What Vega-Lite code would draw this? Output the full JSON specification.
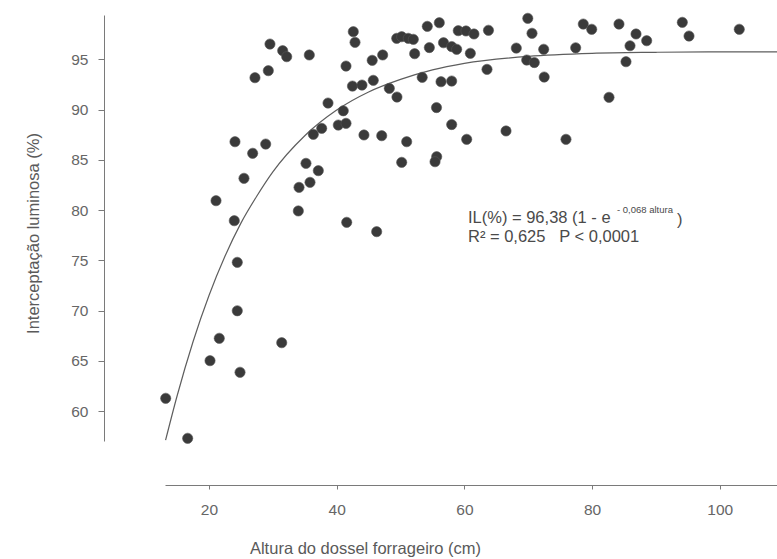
{
  "$schema": "https://vega.github.io/schema/vega-lite/v6.json",
  "autosize": {"type": "none"},
  "width": 612,
  "height": 426,
  "padding": {"left": 165, "top": 15, "right": 0, "bottom": 118},
  "background": "white",
  "config": {
    "view": {"stroke": null},
    "font": "Liberation Sans",
    "axis": {"grid": false, "domainColor": "#7a7a7a", "tickColor": "#7a7a7a", "labelColor": "#666666", "titleColor": "#5a5a5a", "labelFont": "Liberation Sans", "titleFont": "Liberation Sans", "titleFontWeight": "normal"}
  },
  "datasets": {
    "pts": [
      {"altura": 29.55, "il": 96.52}, {"altura": 31.54, "il": 95.86}, {"altura": 32.17, "il": 95.26},
      {"altura": 35.71, "il": 95.43}, {"altura": 27.20, "il": 93.17}, {"altura": 29.29, "il": 93.87},
      {"altura": 42.60, "il": 97.75}, {"altura": 42.87, "il": 96.69}, {"altura": 41.46, "il": 94.33},
      {"altura": 49.40, "il": 97.09}, {"altura": 50.18, "il": 97.25}, {"altura": 51.21, "il": 97.09},
      {"altura": 52.00, "il": 96.99}, {"altura": 54.19, "il": 98.28}, {"altura": 56.07, "il": 98.64},
      {"altura": 56.73, "il": 96.65}, {"altura": 54.51, "il": 96.17}, {"altura": 52.21, "il": 95.56},
      {"altura": 47.20, "il": 95.43}, {"altura": 45.56, "il": 94.90}, {"altura": 42.47, "il": 92.34},
      {"altura": 43.96, "il": 92.44}, {"altura": 45.73, "il": 92.91}, {"altura": 48.24, "il": 92.11},
      {"altura": 49.44, "il": 91.25}, {"altura": 53.39, "il": 93.21}, {"altura": 56.34, "il": 92.77},
      {"altura": 55.63, "il": 90.20}, {"altura": 58.01, "il": 88.51}, {"altura": 38.64, "il": 90.65},
      {"altura": 41.03, "il": 89.88}, {"altura": 40.25, "il": 88.46}, {"altura": 41.46, "il": 88.63},
      {"altura": 36.34, "il": 87.54}, {"altura": 37.65, "il": 88.13}, {"altura": 44.27, "il": 87.47},
      {"altura": 47.05, "il": 87.40}, {"altura": 50.96, "il": 86.80}, {"altura": 50.18, "il": 84.75},
      {"altura": 55.66, "il": 85.31}, {"altura": 55.40, "il": 84.81}, {"altura": 24.07, "il": 86.80},
      {"altura": 26.84, "il": 85.65}, {"altura": 28.88, "il": 86.57}, {"altura": 25.48, "il": 83.16},
      {"altura": 35.19, "il": 84.65}, {"altura": 37.12, "il": 83.92}, {"altura": 35.82, "il": 82.76},
      {"altura": 34.10, "il": 82.26}, {"altura": 21.10, "il": 80.93}, {"altura": 23.96, "il": 78.94},
      {"altura": 33.99, "il": 79.91}, {"altura": 41.57, "il": 78.78}, {"altura": 46.26, "il": 77.85},
      {"altura": 24.43, "il": 74.80}, {"altura": 24.43, "il": 69.98}, {"altura": 21.61, "il": 67.24},
      {"altura": 31.39, "il": 66.80}, {"altura": 20.16, "il": 65.01}, {"altura": 24.86, "il": 63.86},
      {"altura": 13.22, "il": 61.27}, {"altura": 16.66, "il": 57.29}, {"altura": 58.01, "il": 96.27},
      {"altura": 58.79, "il": 96.00}, {"altura": 59.04, "il": 97.85}, {"altura": 60.25, "il": 97.82},
      {"altura": 61.50, "il": 97.52}, {"altura": 63.77, "il": 97.89}, {"altura": 60.93, "il": 95.60},
      {"altura": 58.01, "il": 92.84}, {"altura": 60.36, "il": 87.04}, {"altura": 66.52, "il": 87.87},
      {"altura": 75.91, "il": 87.04}, {"altura": 82.65, "il": 91.22}, {"altura": 63.54, "il": 94.00},
      {"altura": 68.13, "il": 96.12}, {"altura": 69.93, "il": 99.08}, {"altura": 70.59, "il": 97.59},
      {"altura": 69.76, "il": 94.93}, {"altura": 70.95, "il": 94.68}, {"altura": 72.42, "il": 96.00},
      {"altura": 72.50, "il": 93.24}, {"altura": 77.43, "il": 96.15}, {"altura": 78.62, "il": 98.51},
      {"altura": 79.94, "il": 97.99}, {"altura": 84.21, "il": 98.51}, {"altura": 86.88, "il": 97.52},
      {"altura": 88.55, "il": 96.85}, {"altura": 85.94, "il": 96.35}, {"altura": 85.31, "il": 94.76},
      {"altura": 94.13, "il": 98.68}, {"altura": 95.18, "il": 97.32}, {"altura": 103.05, "il": 97.99}
    ],
    "curve": [
      {"altura": 13.2, "il": 57.1}, {"altura": 15, "il": 61.5}, {"altura": 17.5, "il": 66.9},
      {"altura": 20, "il": 71.5}, {"altura": 22.5, "il": 75.4}, {"altura": 25, "il": 78.7},
      {"altura": 27.5, "il": 81.4}, {"altura": 30, "il": 83.8}, {"altura": 35, "il": 87.4},
      {"altura": 40, "il": 89.95}, {"altura": 45, "il": 91.75}, {"altura": 50, "il": 93.0},
      {"altura": 55, "il": 93.95}, {"altura": 60, "il": 94.6}, {"altura": 70, "il": 95.3},
      {"altura": 80, "il": 95.6}, {"altura": 90, "il": 95.7}, {"altura": 100, "il": 95.75},
      {"altura": 109, "il": 95.75}
    ],
    "notes": [
      {"x": 60.56, "y": 79.21, "txt": "IL(%) = 96,38 (1 - e"},
      {"x": 60.56, "y": 77.32, "txt": "R² = 0,625 \u00a0 P < 0,0001"}
    ],
    "sup": [
      {"x": 83.9, "y": 80.0, "txt": "- 0,068 altura"}
    ],
    "paren": [
      {"x": 93.3, "y": 79.0, "txt": ")"}
    ]
  },
  "layer": [
    {
      "data": {"name": "curve"},
      "mark": {"type": "line", "color": "#5e5e5e", "strokeWidth": 1.2, "interpolate": "monotone"},
      "encoding": {
        "x": {"field": "altura", "type": "quantitative", "scale": {"domain": [13.11, 108.96], "nice": false, "zero": false},
          "axis": {"values": [20, 40, 60, 80, 100], "offset": 44, "tickSize": 4, "labelFontSize": 15.5, "labelPadding": 13,
            "title": "Altura do dossel forrageiro (cm)", "titleFontSize": 16.5, "titleX": 200, "titleY": 63, "titleBaseline": "middle", "titleAlign": "center"}},
        "y": {"field": "il", "type": "quantitative", "scale": {"domain": [57.02, 99.41], "nice": false, "zero": false},
          "axis": {"values": [60, 65, 70, 75, 80, 85, 90, 95], "offset": 61, "tickSize": 6, "labelFontSize": 15.5, "labelPadding": 10,
            "title": "Interceptação luminosa (%)", "titleFontSize": 16.5, "titleX": -71, "titleY": 218, "titleBaseline": "middle", "titleAlign": "center", "titleAngle": -90}}
      }
    },
    {
      "data": {"name": "pts"},
      "mark": {"type": "circle", "size": 105, "color": "#3a3a3a", "opacity": 1, "stroke": "#555555", "strokeWidth": 0.6},
      "encoding": {
        "x": {"field": "altura", "type": "quantitative"},
        "y": {"field": "il", "type": "quantitative"}
      }
    },
    {
      "data": {"name": "notes"},
      "mark": {"type": "text", "align": "left", "baseline": "middle", "fontSize": 16.5, "color": "#4a4a4a"},
      "encoding": {"x": {"field": "x", "type": "quantitative"}, "y": {"field": "y", "type": "quantitative"}, "text": {"field": "txt"}}
    },
    {
      "data": {"name": "sup"},
      "mark": {"type": "text", "align": "left", "baseline": "middle", "fontSize": 9.5, "color": "#4a4a4a"},
      "encoding": {"x": {"field": "x", "type": "quantitative"}, "y": {"field": "y", "type": "quantitative"}, "text": {"field": "txt"}}
    },
    {
      "data": {"name": "paren"},
      "mark": {"type": "text", "align": "left", "baseline": "middle", "fontSize": 16.5, "color": "#4a4a4a"},
      "encoding": {"x": {"field": "x", "type": "quantitative"}, "y": {"field": "y", "type": "quantitative"}, "text": {"field": "txt"}}
    }
  ]
}
